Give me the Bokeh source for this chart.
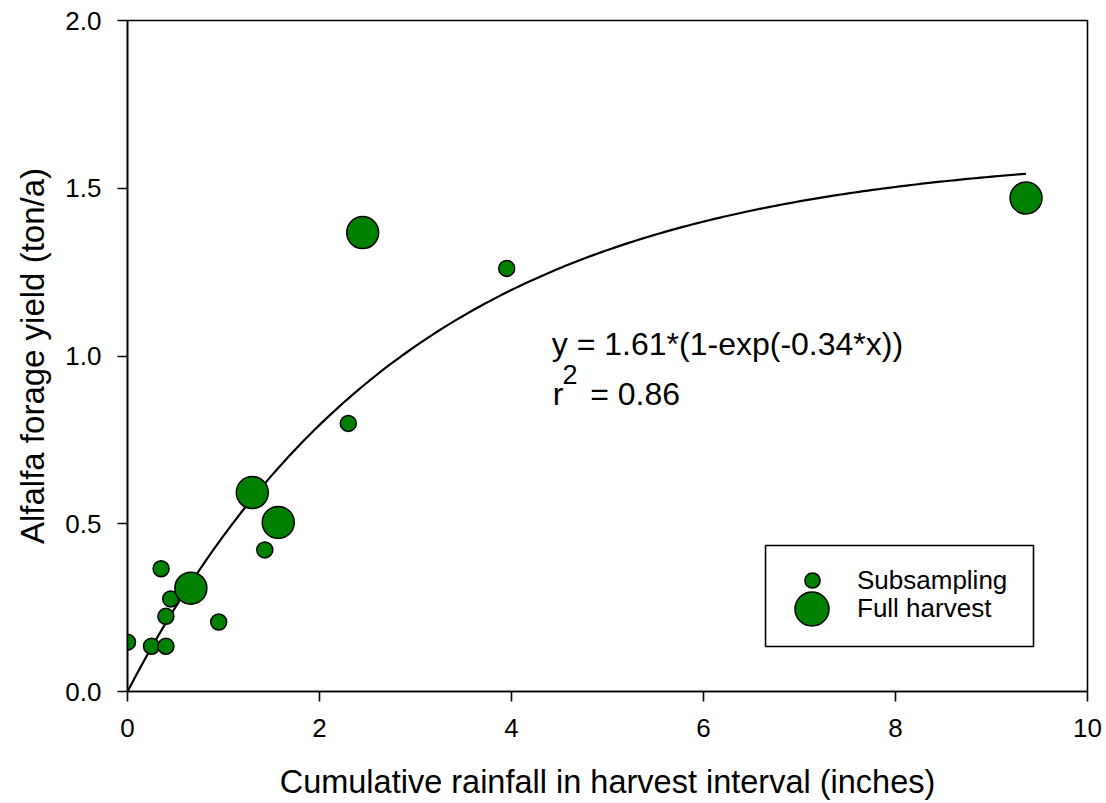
import numpy as np
from bokeh.plotting import figure
from bokeh.models import (Range1d, FixedTicker, PrintfTickFormatter, Legend, LegendItem,
                          Label, BoxAnnotation, Title)
from bokeh.embed import file_html
from bokeh.resources import INLINE

# ---- data ----
sub_rain = [0.00, 0.25, 0.40, 0.40, 0.45, 0.35, 0.95, 1.43, 2.30, 3.95]
sub_yield = [0.147, 0.135, 0.135, 0.224, 0.276, 0.366, 0.207, 0.422, 0.799, 1.261]
full_rain = [0.66, 1.30, 1.57, 2.45, 9.36]
full_yield = [0.308, 0.593, 0.504, 1.368, 1.471]

FIT_A = 1.61
FIT_B = 0.34
FIT_XMAX = 9.36
x_ticks = [0, 2, 4, 6, 8, 10]
y_ticks = [0.0, 0.5, 1.0, 1.5, 2.0]

FONT = "Liberation Sans"
GREEN = "#008000"

p = figure(width=1106, height=803, output_backend="svg", toolbar_location=None,
           x_range=Range1d(0, 10), y_range=Range1d(0, 2),
           min_border_left=127, min_border_right=19, min_border_top=20, min_border_bottom=112)
p.grid.visible = False
p.background_fill_color = "white"
p.border_fill_color = "white"
p.outline_line_color = "black"
p.outline_line_width = 1.6

for ax in (p.xaxis, p.yaxis):
    ax.axis_line_color = "black"
    ax.axis_line_width = 1.6
    ax.major_tick_line_color = "black"
    ax.major_tick_line_width = 1.6
    ax.major_tick_out = 10
    ax.major_tick_in = 0
    ax.minor_tick_line_color = None
    ax.major_label_text_font = FONT
    ax.major_label_text_font_size = "26px"
    ax.major_label_text_color = "black"
    ax.axis_label_text_font = FONT
    ax.axis_label_text_font_style = "normal"
    ax.axis_label_text_color = "black"

p.xaxis.axis_label_text_font_size = "32.5px"
p.xaxis.axis_label_text_line_height = 1.0
p.xaxis.major_label_text_line_height = 1.0
p.xaxis.ticker = FixedTicker(ticks=x_ticks)
p.yaxis.ticker = FixedTicker(ticks=y_ticks)
p.yaxis.formatter = PrintfTickFormatter(format="%.1f")
p.xaxis.axis_label = "Cumulative rainfall in harvest interval (inches)"
p.xaxis.major_label_standoff = 17
p.yaxis.major_label_standoff = 16
p.xaxis.axis_label_standoff = 24

# y axis title placed as a side title so that it can sit slightly above centre
p.add_layout(Title(text="Alfalfa forage yield (ton/a)", align="center", offset=31,
                   standoff=20, text_font=FONT, text_font_size="33px",
                   text_line_height=0.8, vertical_align="top",
                   text_font_style="normal", text_color="black"), "left")

# fitted curve from the equation shown in the chart
xf = np.linspace(0, FIT_XMAX, 200)
yf = FIT_A * (1 - np.exp(-FIT_B * xf))
p.line(xf, yf, line_color="black", line_width=2.2)

r_sub = p.scatter(sub_rain, sub_yield, size=16, marker="circle",
                  fill_color=GREEN, line_color="black", line_width=1.5)
r_full = p.scatter(full_rain, full_yield, size=32, marker="circle",
                   fill_color=GREEN, line_color="black", line_width=1.5)

# legend frame
p.add_layout(BoxAnnotation(left=6.646, right=9.4375, bottom=0.134, top=0.435,
                           fill_alpha=0, line_color="black", line_width=1.6,
                           line_alpha=1))

leg_small = Legend(items=[LegendItem(label="Subsampling", renderers=[r_sub])],
                   location=(666, 91), glyph_width=38, glyph_height=40,
                   label_standoff=26, padding=0, margin=0, spacing=0,
                   border_line_alpha=0, background_fill_alpha=0,
                   label_text_font=FONT, label_text_font_size="26px",
                   label_text_color="black")
leg_full = Legend(items=[LegendItem(label="Full harvest", renderers=[r_full])],
                  location=(642, 40), glyph_width=85, glyph_height=85,
                  label_standoff=3, padding=0, margin=0, spacing=0,
                  border_line_alpha=0, background_fill_alpha=0,
                  label_text_font=FONT, label_text_font_size="26px",
                  label_text_color="black")
p.add_layout(leg_small)
p.add_layout(leg_full)

# equation text
eq_kw = dict(text_font=FONT, text_font_size="32px", text_color="black",
             text_baseline="alphabetic", text_align="left")
p.add_layout(Label(x=4.42, y=1.036, text="y = 1.61*(1-exp(-0.34*x))", **eq_kw))
p.add_layout(Label(x=4.43, y=0.888, text="r", **eq_kw))
p.add_layout(Label(x=4.53, y=0.945, text="2", text_font=FONT, text_font_size="27px",
                   text_color="black", text_baseline="alphabetic", text_align="left"))
p.add_layout(Label(x=4.82, y=0.888, text="= 0.86", **eq_kw))

open("out.html", "w").write(file_html(p, INLINE))
